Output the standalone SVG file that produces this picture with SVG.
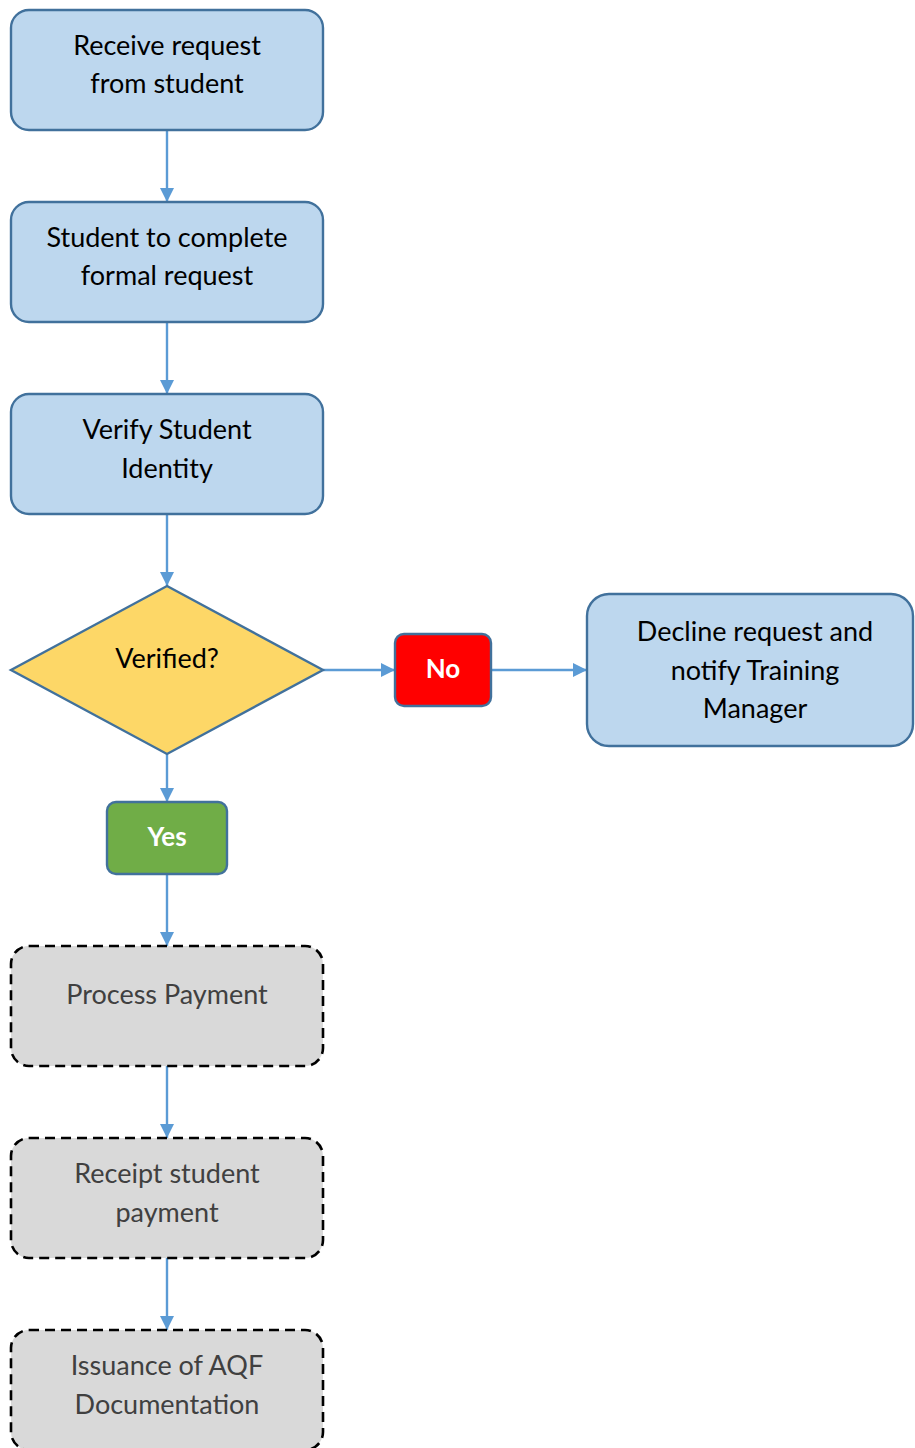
<svg xmlns="http://www.w3.org/2000/svg" width="915" height="1448" viewBox="0 0 915 1448">
  <defs>
    <marker id="arrow" viewBox="0 0 14 14" refX="14" refY="7" markerWidth="14" markerHeight="14" markerUnits="userSpaceOnUse" orient="auto">
      <path d="M0,0 L14,7 L0,14 Z" fill="#5B9BD5"/>
    </marker>
    <style>
      .step { fill: #BDD7EE; stroke: #41719C; stroke-width: 2.4; }
      .pending { fill: #D9D9D9; stroke: #000000; stroke-width: 2.6; stroke-dasharray: 10 6; }
      .decision { fill: #FDD767; stroke: #41719C; stroke-width: 2.4; }
      .no { fill: #FF0000; stroke: #41719C; stroke-width: 2.4; }
      .yes { fill: #70AD47; stroke: #41719C; stroke-width: 2.4; }
      .label { font-family: Lato, "Liberation Sans", sans-serif; font-size: 27px; fill: #000000; text-anchor: middle; }
      .muted { fill: #404040; }
      .badge { font-family: Lato, "Liberation Sans", sans-serif; font-size: 26px; font-weight: bold; fill: #FFFFFF; text-anchor: middle; }
      .flow { stroke: #5B9BD5; stroke-width: 2.4; fill: none; marker-end: url(#arrow); }
    </style>
  </defs>

  <rect width="915" height="1448" fill="#FFFFFF"/>

  <!-- connectors -->
  <g id="connectors">
    <line class="flow" x1="167" y1="130" x2="167" y2="202"/>
    <line class="flow" x1="167" y1="322" x2="167" y2="394"/>
    <line class="flow" x1="167" y1="514" x2="167" y2="586"/>
    <line class="flow" x1="323" y1="670" x2="395" y2="670"/>
    <line class="flow" x1="491" y1="670" x2="587" y2="670"/>
    <line class="flow" x1="167" y1="754" x2="167" y2="802"/>
    <line class="flow" x1="167" y1="874" x2="167" y2="946"/>
    <line class="flow" x1="167" y1="1066" x2="167" y2="1138"/>
    <line class="flow" x1="167" y1="1258" x2="167" y2="1330"/>
  </g>

  <g id="receive-request">
    <rect class="step" x="11" y="10" width="312" height="120" rx="18"/>
    <text class="label" x="167" y="55">Receive request</text>
    <text class="label" x="167" y="93">from student</text>
  </g>

  <g id="formal-request">
    <rect class="step" x="11" y="202" width="312" height="120" rx="18"/>
    <text class="label" x="167" y="247">Student to complete</text>
    <text class="label" x="167" y="285">formal request</text>
  </g>

  <g id="verify-identity">
    <rect class="step" x="11" y="394" width="312" height="120" rx="18"/>
    <text class="label" x="167" y="439">Verify Student</text>
    <text class="label" x="167" y="478">Identity</text>
  </g>

  <g id="verified-decision">
    <polygon class="decision" points="167,586 323,670 167,754 11,670"/>
    <text class="label" x="167" y="668">Verified?</text>
  </g>

  <g id="no-branch">
    <rect class="no" x="395" y="634" width="96" height="72" rx="9"/>
    <text class="badge" x="443" y="678">No</text>
  </g>

  <g id="decline-request">
    <rect class="step" x="587" y="594" width="326" height="152" rx="22"/>
    <text class="label" x="755" y="641">Decline request and</text>
    <text class="label" x="755" y="680">notify Training</text>
    <text class="label" x="755" y="718">Manager</text>
  </g>

  <g id="yes-branch">
    <rect class="yes" x="107" y="802" width="120" height="72" rx="9"/>
    <text class="badge" x="167" y="846">Yes</text>
  </g>

  <g id="process-payment">
    <rect class="pending" x="11" y="946" width="312" height="120" rx="18"/>
    <text class="label muted" x="167" y="1004">Process Payment</text>
  </g>

  <g id="receipt-payment">
    <rect class="pending" x="11" y="1138" width="312" height="120" rx="18"/>
    <text class="label muted" x="167" y="1183">Receipt student</text>
    <text class="label muted" x="167" y="1222">payment</text>
  </g>

  <g id="aqf-documentation">
    <rect class="pending" x="11" y="1330" width="312" height="120" rx="18"/>
    <text class="label muted" x="167" y="1375">Issuance of AQF</text>
    <text class="label muted" x="167" y="1414">Documentation</text>
  </g>
</svg>
